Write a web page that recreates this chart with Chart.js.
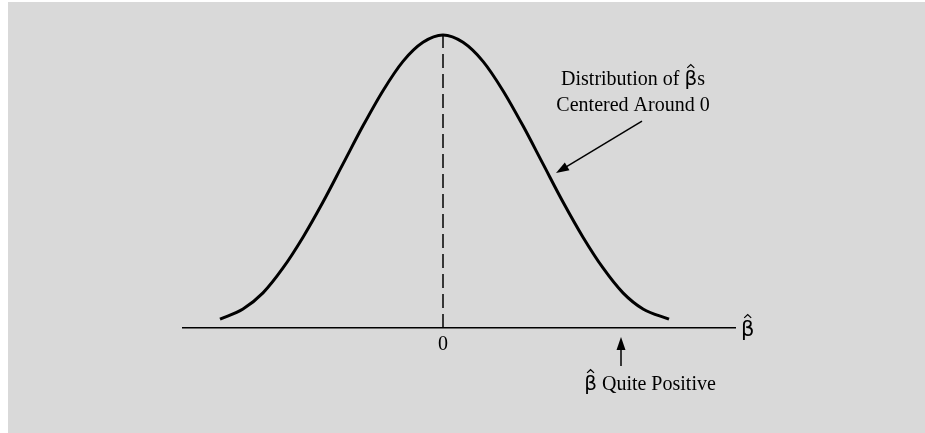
<!DOCTYPE html>
<html>
<head>
<meta charset="utf-8">
<script src="https://cdn.jsdelivr.net/npm/chart.js@4.4.0/dist/chart.umd.min.js"></script>
<style>
  body { margin: 0; background: #fff; }
  #bg { position: absolute; left: 8px; top: 2px; right: 0; bottom: 0; background: #d9d9d9; }
  #wrap { position: absolute; left: 0; top: 0; width: 925px; height: 433px; }
</style>
</head>
<body>
<div id="bg"></div>
<div id="wrap"><canvas id="chart" width="925" height="433"></canvas></div>
<script>
// curve (x in beta units, y relative to peak)
var curveX = [-2.23, -2.0, -1.8, -1.6, -1.4, -1.2, -1.0, -0.8, -0.6, -0.4, -0.2, 0,
              0.2, 0.4, 0.6, 0.8, 1.0, 1.2, 1.4, 1.6, 1.8, 2.0, 2.26];
var curveY = [0.03, 0.065, 0.12, 0.205, 0.31, 0.43, 0.56, 0.69, 0.81, 0.91, 0.975, 1.0,
              0.975, 0.91, 0.81, 0.69, 0.56, 0.43, 0.31, 0.205, 0.12, 0.065, 0.03];
var tickLabels = ['0'];

var serif = '"Liberation Serif", "Times New Roman", serif';
var sans = '"DejaVu Sans", sans-serif';

function arrow(ctx, x1, y1, x2, y2) {
  var a = Math.atan2(y2 - y1, x2 - x1);
  var len = 13, w = 4.5;
  ctx.beginPath();
  ctx.moveTo(x1, y1);
  ctx.lineTo(x2 - Math.cos(a) * len * 0.8, y2 - Math.sin(a) * len * 0.8);
  ctx.stroke();
  ctx.beginPath();
  ctx.moveTo(x2, y2);
  ctx.lineTo(x2 - Math.cos(a) * len - Math.sin(a) * w, y2 - Math.sin(a) * len + Math.cos(a) * w);
  ctx.lineTo(x2 - Math.cos(a) * len + Math.sin(a) * w, y2 - Math.sin(a) * len - Math.cos(a) * w);
  ctx.closePath();
  ctx.fill();
}

// draws beta with a hat; x is the left edge, returns width
function betaHat(ctx, x, y, size) {
  ctx.save();
  ctx.textAlign = 'left';
  ctx.textBaseline = 'alphabetic';
  ctx.font = size + 'px ' + sans;
  var w = ctx.measureText('\u03B2').width;
  ctx.fillText('\u03B2', x, y);
  ctx.strokeStyle = '#000';
  ctx.lineWidth = 1.2;
  ctx.beginPath();
  ctx.moveTo(x + w * 0.5 - 3.5, y - size * 0.86);
  ctx.lineTo(x + w * 0.5, y - size * 1.02);
  ctx.lineTo(x + w * 0.5 + 3.5, y - size * 0.86);
  ctx.stroke();
  ctx.restore();
  return w;
}

// text parts: strings, or null for a beta-hat
function line(ctx, parts, cx, y, size) {
  ctx.font = size + 'px ' + sans;
  var bw = ctx.measureText('\u03B2').width;
  ctx.font = size + 'px ' + serif;
  var total = 0;
  parts.forEach(function(p) { total += p === null ? bw : ctx.measureText(p).width; });
  var x = cx - total / 2;
  parts.forEach(function(p) {
    if (p === null) {
      x += betaHat(ctx, x, y, size);
    } else {
      ctx.font = size + 'px ' + serif;
      ctx.textAlign = 'left';
      ctx.fillText(p, x, y);
      x += ctx.measureText(p).width;
    }
  });
}

var notes = {
  id: 'notes',
  afterDraw: function(chart) {
    var ctx = chart.ctx, x = chart.scales.x, y = chart.scales.y;
    ctx.save();
    ctx.fillStyle = '#000';
    ctx.strokeStyle = '#000';
    ctx.lineWidth = 1.5;
    ctx.textBaseline = 'alphabetic';
    line(ctx, ['Distribution of ', null, 's'], x.getPixelForValue(1.9), y.getPixelForValue(0.853) + 7, 20);
    line(ctx, ['Centered Around 0'], x.getPixelForValue(1.9), y.getPixelForValue(0.765) + 7, 20);
    arrow(ctx, x.getPixelForValue(1.99), y.getPixelForValue(0.706),
               x.getPixelForValue(1.13), y.getPixelForValue(0.529));
    arrow(ctx, x.getPixelForValue(1.78), y.getPixelForValue(-0.13),
               x.getPixelForValue(1.78), y.getPixelForValue(-0.031));
    line(ctx, [null, ' Quite Positive'], x.getPixelForValue(2.07), y.getPixelForValue(-0.188) + 7, 20);
    betaHat(ctx, x.getPixelForValue(2.98), y.getPixelForValue(0) + 8, 21);
    // tick label
    ctx.font = '20px ' + serif;
    ctx.textAlign = 'center';
    ctx.textBaseline = 'middle';
    tickLabels.forEach(function(t) {
      ctx.fillText(t, x.getPixelForValue(Number(t)), y.getPixelForValue(0) + 17);
    });
    ctx.restore();
  }
};

new Chart(document.getElementById('chart'), {
  type: 'line',
  data: {
    datasets: [{
      data: curveX.map(function(v, i) { return {x: v, y: curveY[i]}; }),
      borderColor: '#000',
      borderWidth: 3,
      pointRadius: 0,
      cubicInterpolationMode: 'monotone',
      clip: false
    }, {
      data: [{x: 0, y: 0}, {x: 0, y: 1}],
      borderColor: '#000',
      borderWidth: 1.5,
      borderDash: [14, 6],
      pointRadius: 0,
      clip: false
    }]
  },
  options: {
    responsive: false,
    animation: false,
    layout: { padding: { left: 183, right: 190, top: 35, bottom: 105 } },
    plugins: { legend: { display: false }, tooltip: { enabled: false } },
    scales: {
      x: {
        type: 'linear',
        min: -2.6,
        max: 2.92,
        grid: { display: false },
        border: { display: true, color: '#000', width: 1.5 },
        ticks: { display: false },
        afterFit: function(s) { s.height = 0; }
      },
      y: { display: false, min: 0, max: 1 }
    }
  },
  plugins: [notes]
});
</script>
</body>
</html>
